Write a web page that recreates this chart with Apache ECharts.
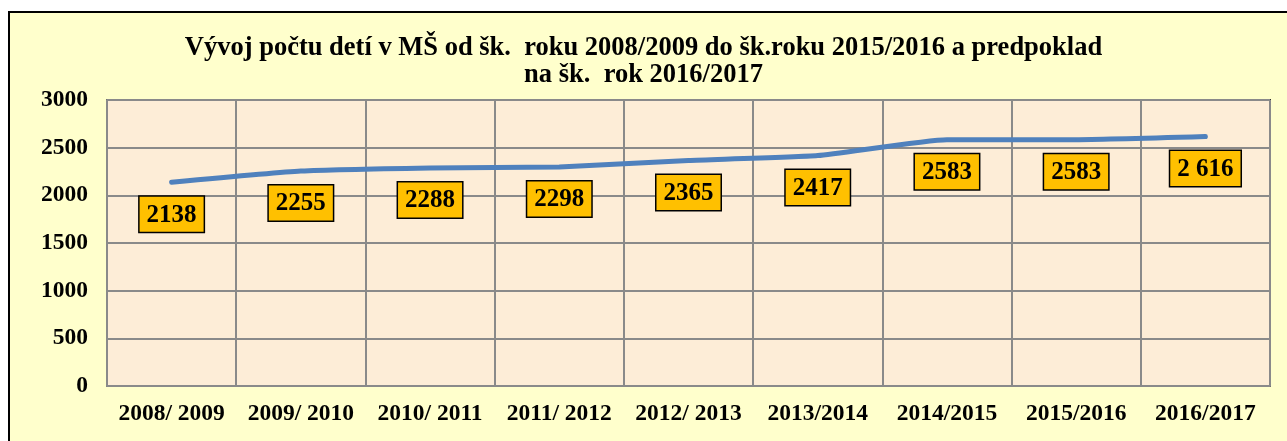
<!DOCTYPE html>
<html>
<head>
<meta charset="utf-8">
<script src="https://cdn.jsdelivr.net/npm/echarts@6/dist/echarts.min.js"></script>
<style>
  html, body { margin: 0; padding: 0; background: #fff; overflow: hidden; }
  #box {
    position: absolute; left: 8px; top: 11px; width: 1300px; height: 450px;
    border: 2px solid #000; background: #FFFFCC;
  }
  #chart { position: absolute; left: 0; top: 0; width: 1287px; height: 441px; }
</style>
</head>
<body>
<div id="box"></div>
<div id="chart"></div>
<script>
// školské roky
const categories = ['2008/ 2009', '2009/ 2010', '2010/ 2011', '2011/ 2012', '2012/ 2013', '2013/2014', '2014/2015', '2015/2016', '2016/2017'];
// počet detí
const childCounts = [2138, 2255, 2288, 2298, 2365, 2417, 2583, 2583, 2616];
// texty v žltých rámčekoch
const valueLabels = ['2138', '2255', '2288', '2298', '2365', '2417', '2583', '2583', '2 616'];
const yTicks = [0, 500, 1000, 1500, 2000, 2500, 3000];

const font = '"Liberation Serif", "Times New Roman", serif';
const gridColor = '#8a8a8a';

const myChart = echarts.init(document.getElementById('chart'));
const option = {
  animation: false,
  title: {
    text: 'Vývoj počtu detí v MŠ od šk.  roku 2008/2009 do šk.roku 2015/2016 a predpoklad\nna šk.  rok 2016/2017',
    left: 'center',
    top: 30,
    textStyle: {
      fontFamily: font,
      fontWeight: 'bold',
      fontSize: 26.5,
      color: '#000',
      lineHeight: 27,
    },
  },
  grid: {
    left: 107,
    right: 17,
    top: 100,
    bottom: 55,
    show: true,
    backgroundColor: '#FDEDD7',
    borderColor: '#333',
    borderWidth: 2,
  },
  xAxis: {
    type: 'category',
    data: categories,
    boundaryGap: true,
    axisLine: { lineStyle: { color: gridColor, width: 2 } },
    axisTick: { show: false },
    axisLabel: {
      interval: 0,
      margin: 16,
      fontFamily: font,
      fontWeight: 'bold',
      fontSize: 23.5,
      color: '#000',
    },
    splitLine: { show: true, interval: 0, lineStyle: { color: gridColor, width: 2 } },
  },
  yAxis: {
    type: 'value',
    min: yTicks[0],
    max: yTicks[yTicks.length - 1],
    interval: 500,
    axisLine: { show: true, lineStyle: { color: gridColor, width: 2 } },
    axisTick: { show: false },
    axisLabel: {
      margin: 19,
      fontFamily: font,
      fontWeight: 'bold',
      fontSize: 23.5,
      color: '#000',
      formatter: (v) => String(v),
    },
    splitLine: { lineStyle: { color: gridColor, width: 2 } },
  },
  series: [
    {
      type: 'line',
      data: childCounts,
      smooth: 0.15,
      symbol: 'circle',
      symbolSize: 1,
      lineStyle: { color: '#4F81BD', width: 5, cap: 'round' },
      itemStyle: { color: '#4F81BD' },
      label: {
        show: true,
        position: 'bottom',
        distance: 14,
        formatter: (p) => valueLabels[p.dataIndex],
        fontFamily: font,
        fontWeight: 'bold',
        fontSize: 25,
        color: '#000',
        backgroundColor: '#FFC000',
        borderColor: '#000',
        borderWidth: 1.5,
        padding: [6, 7, 4, 7],
      },
    },
  ],
};
myChart.setOption(option);
</script>
</body>
</html>
